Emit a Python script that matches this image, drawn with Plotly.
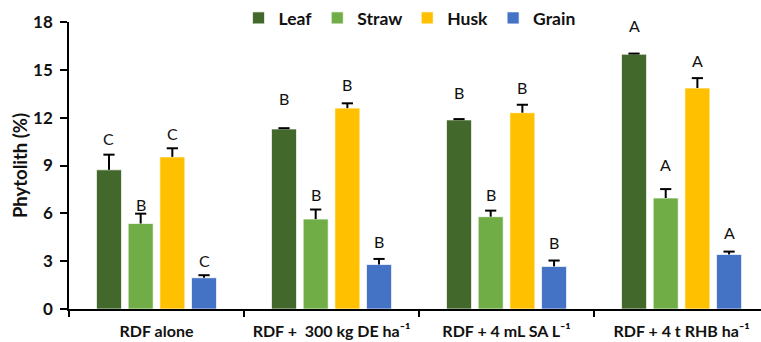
import plotly.graph_objects as go

categories = ["RDF alone", "RDF +  300 kg DE ha⁻¹", "RDF + 4 mL SA L⁻¹", "RDF + 4 t RHB ha⁻¹"]
series_names = ["Leaf", "Straw", "Husk", "Grain"]
leaf = [8.73, 11.29, 11.86, 15.98]
straw = [5.36, 5.64, 5.79, 6.96]
husk = [9.54, 12.60, 12.31, 13.86]
grain = [1.96, 2.79, 2.67, 3.42]
leaf_err = [0.95, 0.05, 0.05, 0.04]
straw_err = [0.62, 0.60, 0.38, 0.56]
husk_err = [0.54, 0.30, 0.50, 0.62]
grain_err = [0.16, 0.35, 0.37, 0.18]
leaf_letters = ["C", "B", "B", "A"]
straw_letters = ["B", "B", "B", "A"]
husk_letters = ["C", "B", "B", "A"]
grain_letters = ["C", "B", "B", "A"]
leaf_letter_y = [10.69, 13.19, 13.56, 17.75]
straw_letter_y = [6.54, 7.21, 7.21, 9.06]
husk_letter_y = [11.0, 14.06, 13.88, 15.56]
grain_letter_y = [3.04, 4.25, 4.19, 4.77]
y_ticks = [0, 3, 6, 9, 12, 15, 18]

colors = ["#43682B", "#70AD47", "#FFC000", "#4472C4"]
values = [leaf, straw, husk, grain]
errors = [leaf_err, straw_err, husk_err, grain_err]
letters = [leaf_letters, straw_letters, husk_letters, grain_letters]
letter_ys = [leaf_letter_y, straw_letter_y, husk_letter_y, grain_letter_y]

FONT = "Lato, 'Open Sans', sans-serif"
BARGAP = 0.276

fig = go.Figure()
ngroups = len(series_names)
group_width = 1 - BARGAP
slot = group_width / ngroups

for si, (name, vals, errs, col) in enumerate(zip(series_names, values, errors, colors)):
    xs = list(range(len(categories)))
    fig.add_trace(go.Bar(
        x=xs, y=vals, name=name,
        marker=dict(color=col, line=dict(color="rgba(255,255,255,0.7)", width=1)),
        error_y=dict(type="data", array=errs, symmetric=False, arrayminus=[0] * len(errs),
                     color="black", thickness=2, width=0),
    ))
    offset = -group_width / 2 + slot * (si + 0.5)
    fig.add_trace(go.Scatter(
        x=[c + offset for c in xs], y=[v + e for v, e in zip(vals, errs)],
        mode="markers", showlegend=False, hoverinfo="skip",
        marker=dict(symbol="line-ew-open", size=8, color="black",
                    line=dict(color="black", width=2)),
    ))

for si, (lets, lys) in enumerate(zip(letters, letter_ys)):
    offset = -group_width / 2 + slot * (si + 0.5)
    for ci, (lt, ly) in enumerate(zip(lets, lys)):
        fig.add_annotation(x=ci + offset, y=ly, text=lt, showarrow=False,
                           font=dict(family=FONT, size=16, color="#111"),
                           xanchor="center", yanchor="middle")

fig.update_layout(
    width=761, height=342,
    margin=dict(l=69, r=0, t=21, b=33),
    paper_bgcolor="white", plot_bgcolor="white",
    barmode="group", bargap=BARGAP, bargroupgap=0.21,
    showlegend=True,
    legend=dict(orientation="h", x=0.245, xanchor="left", xref="paper",
                y=1.075, yanchor="top",
                font=dict(family=FONT, size=17.5, color="#111", weight="bold"),
                itemwidth=30, traceorder="normal", bgcolor="rgba(0,0,0,0)"),
    font=dict(family=FONT, color="#111"),
)
fig.update_xaxes(
    tickmode="array", tickvals=list(range(len(categories))), ticktext=categories,
    range=[-0.5, 3.454], showline=True, linecolor="black", linewidth=1.5,
    ticks="", showgrid=False, zeroline=False,
    tickfont=dict(family=FONT, size=16, weight="bold", color="#111"),
    ticklabelstandoff=7,
)
fig.update_xaxes(minor=dict(tickmode="array", tickvals=[-0.5, 0.5, 1.5, 2.5, 3.5],
                            ticks="outside", ticklen=6, tickcolor="black", tickwidth=1.5,
                            showgrid=False))
fig.update_yaxes(
    range=[0, 18], tickvals=y_ticks, showline=True, linecolor="black", linewidth=1.5,
    ticks="outside", ticklen=7, tickcolor="black", tickwidth=1.5,
    showgrid=False, zeroline=False,
    tickfont=dict(family=FONT, size=17, weight="bold", color="#111"),
    title=dict(text="Phytolith (%)", font=dict(family=FONT, size=18.5, weight="bold", color="#111"),
               standoff=1),
    ticklabelstandoff=4,
)
fig.write_html("out.html")
